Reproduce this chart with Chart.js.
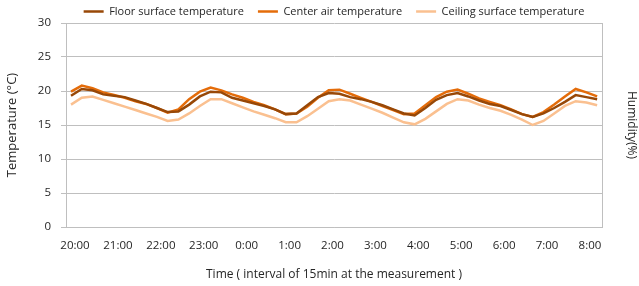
<!DOCTYPE html>
<html>
<head>
<meta charset="utf-8">
<script src="https://cdn.jsdelivr.net/npm/chart.js@4.4.0/dist/chart.umd.min.js"></script>
<style>
    html, body { margin: 0; padding: 0; background: #fff; }
    #wrap { width: 639px; height: 286px; }
</style>
</head>
<body>
<div id="wrap"><canvas id="tempChart" width="639" height="286"></canvas></div>
<script>
// Hour labels on the x axis (hours after 20:00)
const hourLabels = ['20:00', '21:00', '22:00', '23:00', '0:00', '1:00', '2:00', '3:00', '4:00', '5:00', '6:00', '7:00', '8:00'];

// Readings every 15 min
const floorTemp = [19.3, 20.3, 20.1, 19.5, 19.3, 19.1, 18.6, 18.1, 17.5, 16.9,
    17.0, 18.0, 19.2, 19.9, 19.8, 19.0, 18.6, 18.2, 17.8, 17.3,
    16.6, 16.7, 17.9, 19.1, 19.7, 19.6, 19.1, 18.8, 18.4, 17.9,
    17.3, 16.7, 16.4, 17.5, 18.7, 19.4, 19.7, 19.2, 18.6, 18.1,
    17.8, 17.2, 16.6, 16.2, 16.7, 17.5, 18.4, 19.4, 19.1, 18.8];

const centerTemp = [19.9, 20.8, 20.4, 19.8, 19.4, 19.0, 18.5, 18.1, 17.5, 16.8,
    17.3, 18.8, 19.9, 20.5, 20.1, 19.5, 19.0, 18.4, 17.9, 17.3,
    16.6, 16.7, 17.7, 19.0, 20.1, 20.2, 19.6, 19.0, 18.4, 17.8,
    17.2, 16.6, 16.7, 17.9, 19.1, 19.9, 20.2, 19.6, 18.9, 18.4,
    17.9, 17.3, 16.6, 16.2, 16.9, 18.0, 19.2, 20.3, 19.8, 19.2];

const ceilingTemp = [18.0, 19.0, 19.2, 18.7, 18.2, 17.7, 17.2, 16.7, 16.2, 15.6,
    15.8, 16.7, 17.8, 18.8, 18.8, 18.2, 17.6, 17.0, 16.5, 16.0,
    15.4, 15.4, 16.3, 17.4, 18.5, 18.8, 18.6, 18.0, 17.4, 16.8,
    16.1, 15.4, 15.1, 15.9, 17.0, 18.1, 18.8, 18.6, 18.0, 17.5,
    17.1, 16.5, 15.8, 15.0, 15.6, 16.7, 17.8, 18.5, 18.3, 17.9];

const yTicks = [0, 5, 10, 15, 20, 25, 30];

// x position of each reading, in hours after 20:00
const startHour = -0.093;
const stepHour = 0.2502;
function toPoints(values) {
    return values.map((v, i) => ({ x: startHour + i * stepHour, y: v }));
}

const fontFamily = "'Open Sans', 'Noto Sans', sans-serif";
const textColor = '#262626';
const gridColor = '#bfbfbf';

// Keep the legend strip short so the plot starts near the top
const legendFit = {
    id: 'legendFit',
    beforeInit(chart) {
        const legend = chart.legend;
        const fit = legend.fit;
        legend.fit = function () {
            fit.call(this);
            this.height = 31;
        };
    }
};

const ctx = document.getElementById('tempChart');

new Chart(ctx, {
    type: 'line',
    data: {
        datasets: [
            {
                label: 'Floor surface temperature',
                data: toPoints(floorTemp),
                borderColor: '#984807',
                borderWidth: 2.5,
                pointRadius: 0,
                tension: 0
            },
            {
                label: 'Center air temperature',
                data: toPoints(centerTemp),
                borderColor: '#e46c0a',
                borderWidth: 2.5,
                pointRadius: 0,
                tension: 0
            },
            {
                label: 'Ceiling surface temperature',
                data: toPoints(ceilingTemp),
                borderColor: '#fac090',
                borderWidth: 2.5,
                pointRadius: 0,
                tension: 0
            }
        ]
    },
    plugins: [legendFit],
    options: {
        responsive: false,
        animation: false,
        layout: { padding: { top: -8, right: 0, bottom: 0, left: 0 } },
        plugins: {
            legend: {
                display: true,
                position: 'top',
                fullSize: false,
                labels: {
                    usePointStyle: true,
                    pointStyle: 'line',
                    pointStyleWidth: 20,
                    boxHeight: 3,
                    padding: 14,
                    color: textColor,
                    font: { family: fontFamily, size: 11 }
                }
            },
            tooltip: { enabled: false }
        },
        scales: {
            x: {
                type: 'linear',
                min: -0.21,
                max: 12.28,
                afterBuildTicks: (axis) => {
                    axis.ticks = hourLabels.map((_, i) => ({ value: i }));
                },
                afterFit: (axis) => { axis.height = 59; },
                ticks: {
                    autoSkip: false,
                    maxRotation: 0,
                    padding: 4,
                    color: textColor,
                    font: { family: fontFamily, size: 11.5 },
                    callback: (value) => hourLabels[value]
                },
                grid: { display: false },
                border: { display: true, color: gridColor },
                title: {
                    display: true,
                    text: 'Time ( interval of 15min at the measurement )',
                    color: textColor,
                    font: { family: fontFamily, size: 12 },
                    padding: { top: 8 }
                }
            },
            y: {
                min: 0,
                max: 30,
                afterBuildTicks: (axis) => {
                    axis.ticks = yTicks.map(v => ({ value: v }));
                },
                afterFit: (axis) => { axis.width = 66; },
                ticks: {
                    padding: 10,
                    color: textColor,
                    font: { family: fontFamily, size: 11.5 }
                },
                grid: { color: gridColor, drawTicks: true, tickLength: 5 },
                border: { display: true, color: gridColor },
                title: {
                    display: true,
                    text: 'Temperature (°C)',
                    color: textColor,
                    font: { family: fontFamily, size: 13 },
                    padding: { top: 4, bottom: 2 }
                }
            },
            y2: {
                position: 'right',
                min: 0,
                max: 30,
                afterFit: (axis) => { axis.width = 37; },
                ticks: { display: false },
                grid: { display: false },
                border: { display: true, color: gridColor },
                title: {
                    display: true,
                    text: 'Humidity(%)',
                    color: textColor,
                    font: { family: fontFamily, size: 12 },
                    padding: { top: 0, bottom: 8 }
                }
            }
        }
    }
});
</script>
</body>
</html>
